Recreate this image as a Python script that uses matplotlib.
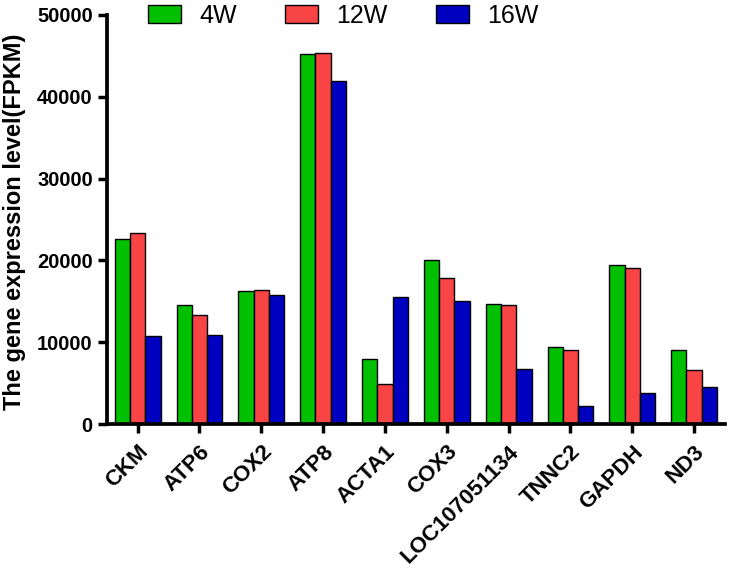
import matplotlib
matplotlib.use("Agg")
import matplotlib.pyplot as plt
import matplotlib.transforms as mtransforms
import numpy as np

genes = ["CKM", "ATP6", "COX2", "ATP8", "ACTA1", "COX3", "LOC107051134", "TNNC2", "GAPDH", "ND3"]
w4 = [22600, 14600, 16300, 45200, 8000, 20000, 14700, 9400, 19400, 9100]
w12 = [23300, 13300, 16400, 45300, 4950, 17900, 14600, 9000, 19100, 6600]
w16 = [10700, 10900, 15800, 41900, 15500, 15000, 6700, 2150, 3800, 4550]
series_names = ["4W", "12W", "16W"]
colors = ["#00C000", "#F84444", "#0000C0"]

plt.rcParams['font.family'] = ['Liberation Sans', 'DejaVu Sans']

fig = plt.figure(figsize=(7.29, 5.70), dpi=100)
ax = fig.add_axes([0.1464, 0.2561, 0.8481, 0.7179])

x = np.arange(len(genes))
bw = 0.247
for i, (vals, name, c) in enumerate(zip([w4, w12, w16], series_names, colors)):
    ax.bar(x + (i - 1) * bw, vals, width=bw, color=c, edgecolor="black",
           linewidth=1.0, label=name)

ax.set_xlim(-0.5, 9.5)
ax.set_ylim(0, 50000)
ax.set_yticks([0, 10000, 20000, 30000, 40000, 50000])
ax.set_xticks(x)
ax.set_xticklabels(genes, rotation=45, ha="right", va="top", rotation_mode="anchor",
                   fontsize=16, fontweight="bold")
offset = mtransforms.ScaledTranslation(3 / 72, -2 / 72, fig.dpi_scale_trans)
for lbl in ax.get_xticklabels():
    lbl.set_transform(lbl.get_transform() + offset)
for lbl in ax.get_yticklabels():
    lbl.set_fontsize(14.5)
    lbl.set_fontweight("bold")

for s in ["top", "right"]:
    ax.spines[s].set_visible(False)
for s in ["left", "bottom"]:
    ax.spines[s].set_linewidth(2.7)
ax.tick_params(axis="both", width=2.5, length=6.5, direction="out")
ax.tick_params(axis="x", pad=6)
ax.tick_params(axis="y", pad=3.5)

ax.set_ylabel("The gene expression level(FPKM)", fontsize=17, fontweight="bold")
ax.yaxis.set_label_coords(-0.131, 0.493)

leg = ax.legend(loc="upper left", bbox_to_anchor=(148 / 729, 1 - 4 / 570), bbox_transform=fig.transFigure,
                ncol=3, frameon=False, fontsize=18, handlelength=1.32, handleheight=0.72,
                columnspacing=1.9, handletextpad=0.75, borderpad=0.0, borderaxespad=0.0)

fig.savefig("out.png", dpi=100)
